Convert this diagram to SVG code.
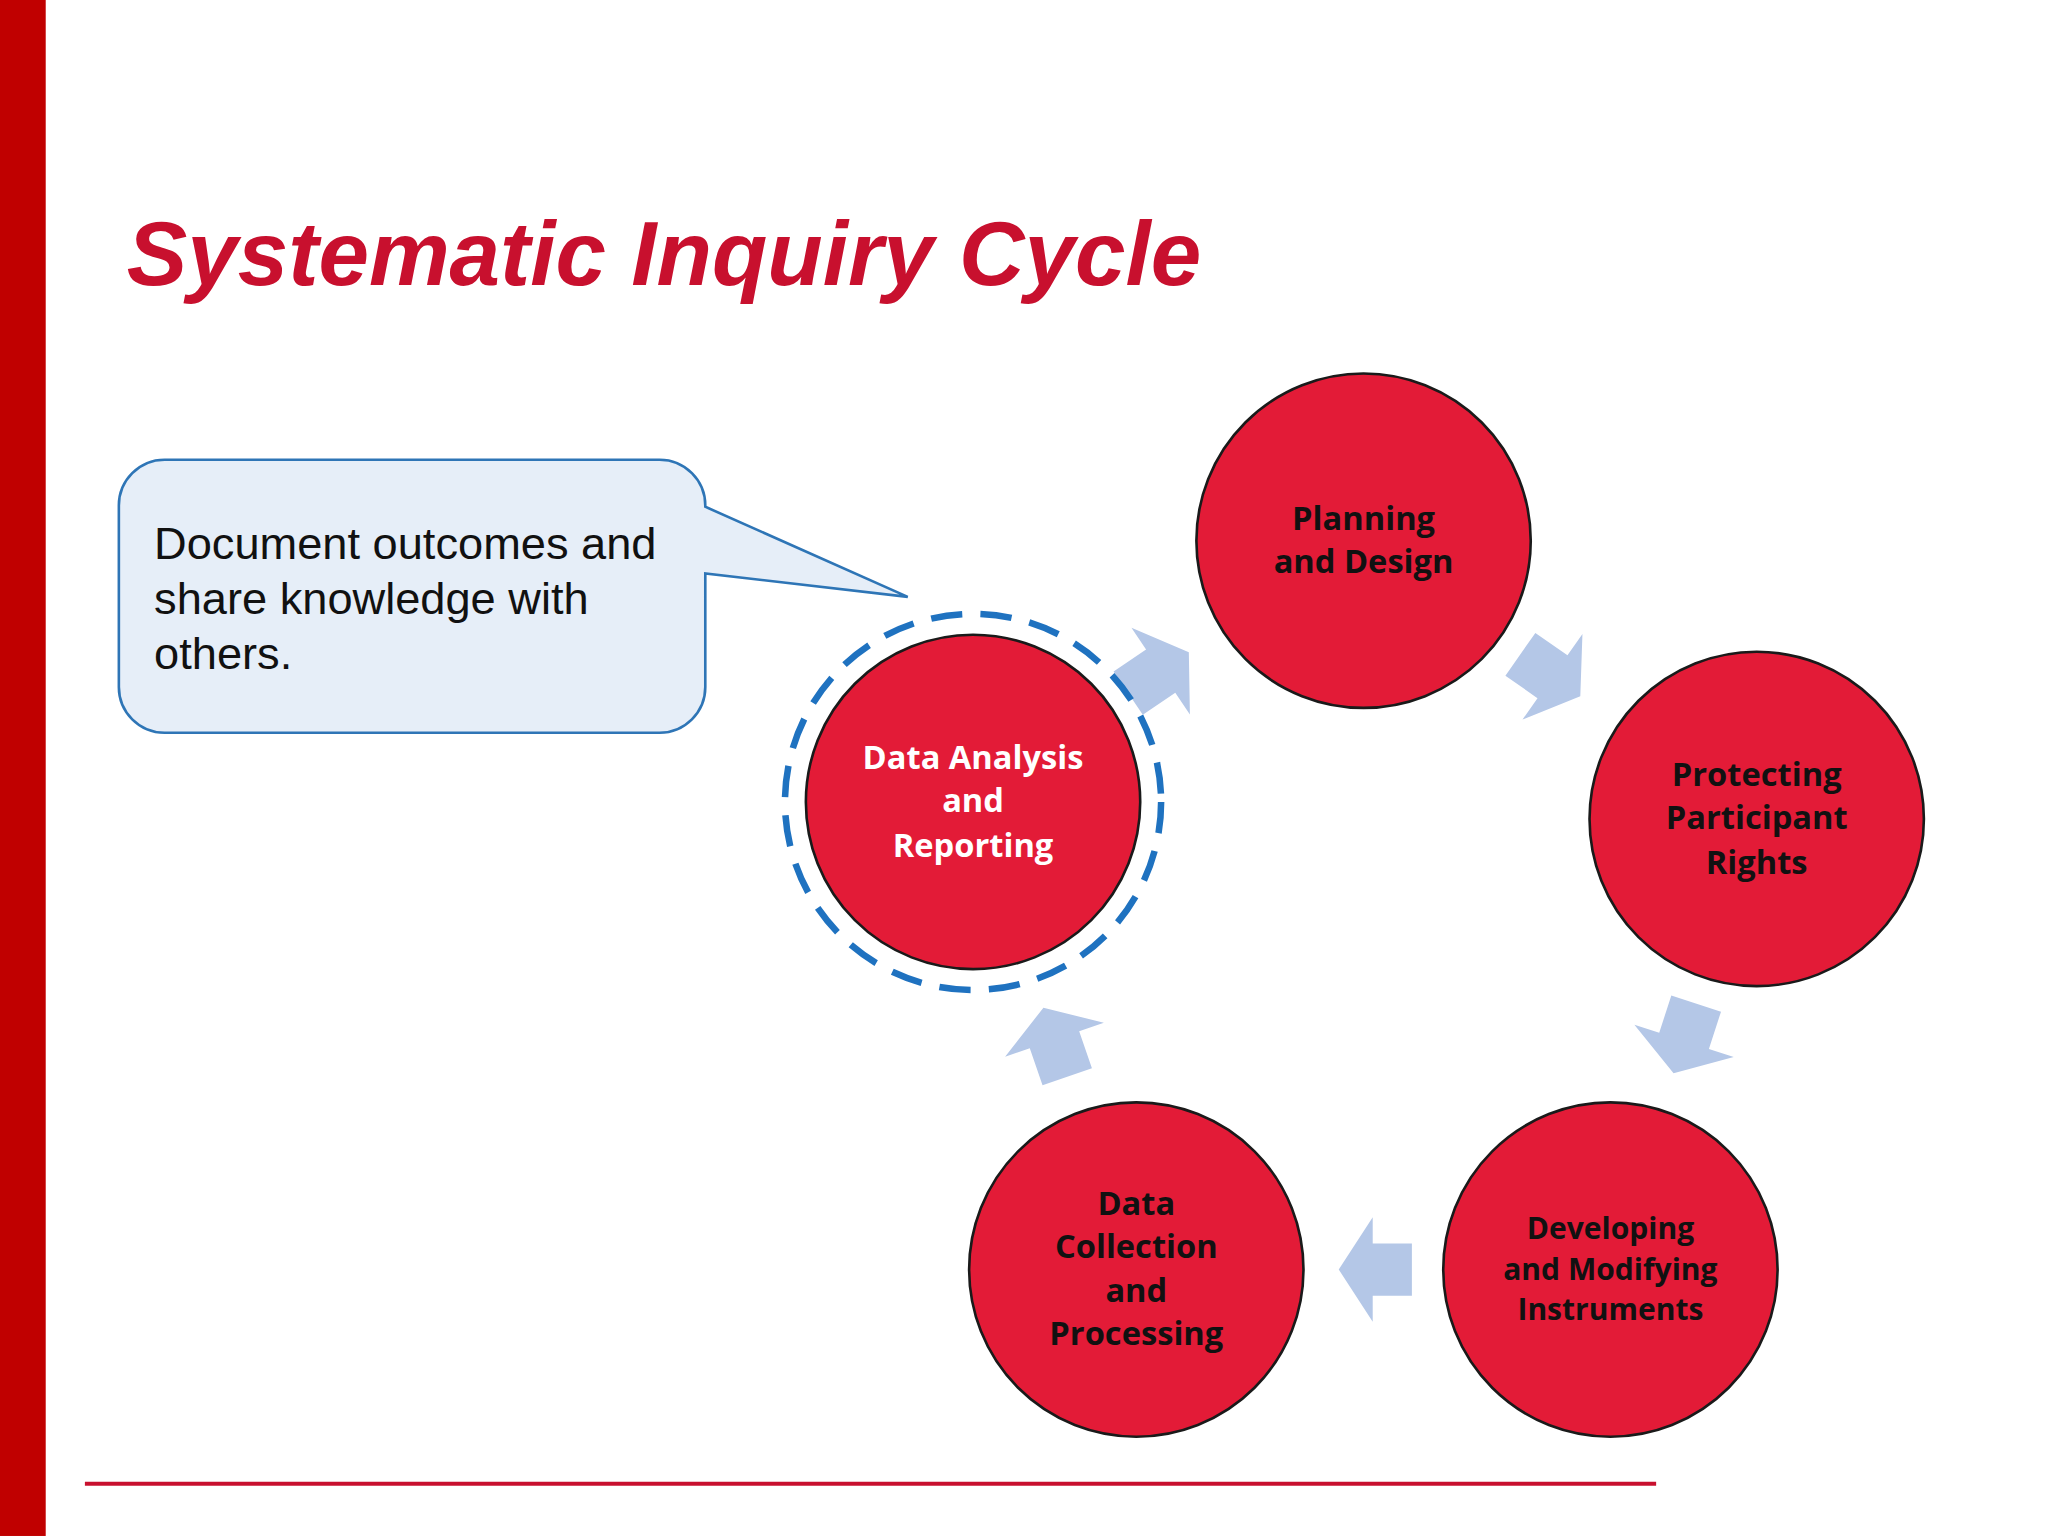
<svg xmlns="http://www.w3.org/2000/svg" width="2048" height="1536" viewBox="0 0 2048 1536">
<defs>
<style>
.n{fill:#E31B37;stroke:#1a1a1a;stroke-width:2}
.t{font-family:"Open Sans","Noto Sans",sans-serif;font-weight:bold;font-size:25px;text-anchor:middle;fill:#111}
.a{fill:#B4C7E7}
</style>
<path id="arr" d="M-28,-20 L2,-20 L2,-40 L28,0 L2,40 L2,20 L-28,20 Z"/>
</defs>
<rect width="2048" height="1536" fill="#fff"/>
<g transform="scale(1.3061)">
<rect x="0" y="0" width="35" height="1176" fill="#C00000"/>
<text x="97" y="218" font-family="Liberation Sans,Arial,sans-serif" font-weight="bold" font-style="italic" font-size="69.5" fill="#C8102E">Systematic Inquiry Cycle</text>
<line x1="65" y1="1136" x2="1268" y2="1136" stroke="#C8102E" stroke-width="3"/>
<g id="callout">
<path d="M126,352 H505 A35,35 0 0 1 540,387 L540,388 L695,457 L540,439 V526 A35,35 0 0 1 505,561 H126 A35,35 0 0 1 91,526 V387 A35,35 0 0 1 126,352 Z" fill="#E6EEF8" stroke="#2E75B6" stroke-width="2"/>
<text font-family="Liberation Sans,Arial,sans-serif" font-size="34.6" fill="#111"><tspan x="118" y="428">Document outcomes and</tspan><tspan x="118" y="470">share knowledge with</tspan><tspan x="118" y="512">others.</tspan></text>
</g>
<g id="connectors">
<use href="#arr" class="a" transform="translate(887,515) rotate(-34)"/>
<use href="#arr" class="a" transform="translate(1187,517) rotate(35)"/>
<use href="#arr" class="a" transform="translate(1290,795) rotate(108)"/>
<use href="#arr" class="a" transform="translate(1053,972) rotate(180)"/>
<use href="#arr" class="a" transform="translate(808,798) rotate(-109)"/>
</g>
<g id="planning"><circle class="n" cx="1044" cy="414" r="128"/><text class="t"><tspan x="1044" y="406">Planning</tspan><tspan x="1044" y="439">and Design</tspan></text></g>
<g id="protecting"><circle class="n" cx="1345" cy="627" r="128"/><text class="t"><tspan x="1345" y="602">Protecting</tspan><tspan x="1345" y="635">Participant</tspan><tspan x="1345" y="669">Rights</tspan></text></g>
<g id="developing"><circle class="n" cx="1233" cy="972" r="128"/><text class="t" style="font-size:23px"><tspan x="1233" y="949">Developing</tspan><tspan x="1233" y="980">and Modifying</tspan><tspan x="1233" y="1011">Instruments</tspan></text></g>
<g id="collection"><circle class="n" cx="870" cy="972" r="128"/><text class="t"><tspan x="870" y="930">Data</tspan><tspan x="870" y="963">Collection</tspan><tspan x="870" y="997">and</tspan><tspan x="870" y="1030">Processing</tspan></text></g>
<g id="analysis"><circle cx="745" cy="614" r="144" fill="none" stroke="#1F72C0" stroke-width="5" stroke-dasharray="24,14"/><circle class="n" cx="745" cy="614" r="128"/><text class="t" style="fill:#fff"><tspan x="745" y="589">Data Analysis</tspan><tspan x="745" y="622">and</tspan><tspan x="745" y="656">Reporting</tspan></text></g>
</g>
</svg>
